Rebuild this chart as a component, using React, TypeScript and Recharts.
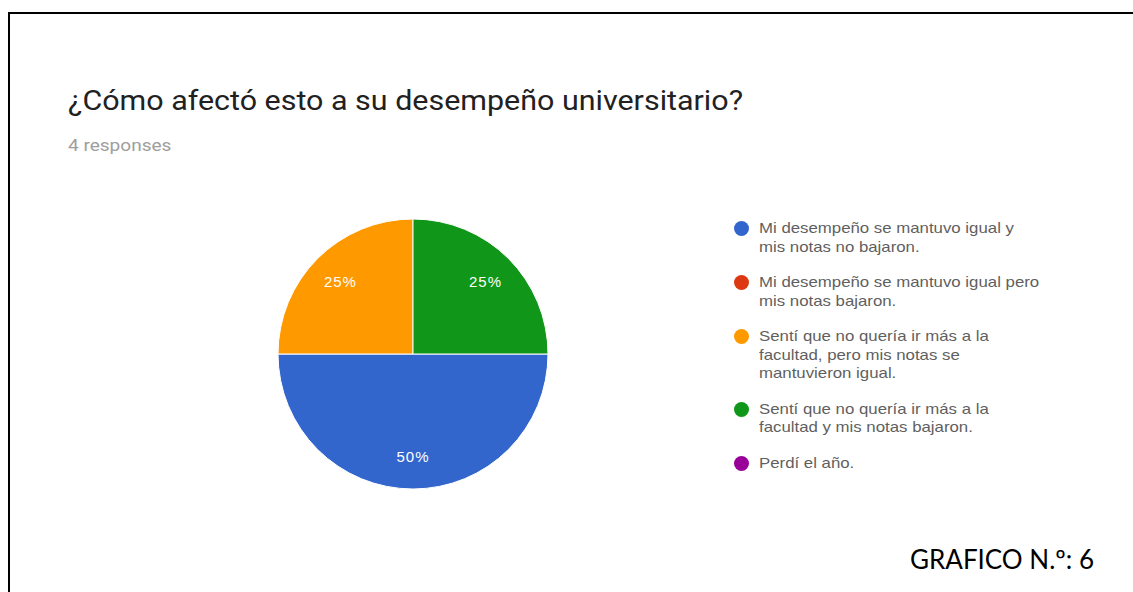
import { Legend, Pie, PieChart, Cell } from "recharts";

const categories = [
  "Mi desempeño se mantuvo igual y\nmis notas no bajaron.",
  "Mi desempeño se mantuvo igual pero\nmis notas bajaron.",
  "Sentí que no quería ir más a la\nfacultad, pero mis notas se\nmantuvieron igual.",
  "Sentí que no quería ir más a la\nfacultad y mis notas bajaron.",
  "Perdí el año.",
];
const counts = [2, 0, 1, 1, 0];
const colors = ["#3366cc", "#dc3912", "#ff9900", "#109618", "#990099"];

const title = "¿Cómo afectó esto a su desempeño universitario?";
const subtitle = "4 responses";
const caption = "GRAFICO N.º: 6";

const rows = categories.map((name, i) => ({ name, value: counts[i], color: colors[i] }));
const total = counts.reduce((a, b) => a + b, 0);

const RAD = Math.PI / 180;

// the source screenshot is a little stretched sideways
const stretch = (k: number) => ({ display: "inline-block", transform: `scaleX(${k})`, transformOrigin: "left center" });

function sliceLabel(p: any) {
  if (!p.value) return null;
  const r = p.outerRadius * 0.76;
  const x = p.cx + r * Math.cos(-p.midAngle * RAD);
  const y = p.cy + r * Math.sin(-p.midAngle * RAD);
  return (
    <text
      x={x}
      y={y}
      fill="#fff"
      fontSize={15}
      letterSpacing={1}
      fontFamily="Liberation Sans, Arial"
      textAnchor="middle"
      dominantBaseline="central"
    >
      {Math.round((p.value / total) * 100)}%
    </text>
  );
}

function LegendBox() {
  return (
    <div style={{ fontFamily: "Liberation Sans, Arial", fontSize: 15, color: "#5f5f5f", lineHeight: "18.5px" }}>
      {rows.map((r) => (
        <div key={r.name} style={{ display: "flex", alignItems: "flex-start", marginBottom: 17 }}>
          <span
            style={{
              width: 15,
              height: 15,
              borderRadius: "50%",
              background: r.color,
              flex: "none",
              marginTop: 2,
              marginRight: 10,
            }}
          />
          <span style={{ whiteSpace: "pre-line", ...stretch(1.12) }}>{r.name}</span>
        </div>
      ))}
    </div>
  );
}

export default function App() {
  return (
    <div style={{ position: "absolute", left: 0, top: 0, width: 1133, height: 592, background: "#fff", overflow: "hidden" }}>
      <div style={{ position: "absolute", left: 8, top: 12, width: 1125, height: 2, background: "#000" }} />
      <div style={{ position: "absolute", left: 8, top: 12, width: 2, height: 580, background: "#000" }} />
      <div style={{ position: "absolute", left: 68, top: 84, fontFamily: "Roboto", fontSize: 28, color: "#212121", whiteSpace: "nowrap" }}>
        <span style={stretch(1.087)}>{title}</span>
      </div>
      <div style={{ position: "absolute", left: 68, top: 135, fontFamily: "Roboto", fontSize: 17, color: "#9e9e9e", whiteSpace: "nowrap" }}>
        <span style={stretch(1.12)}>{subtitle}</span>
      </div>
      <div style={{ position: "absolute", left: 910, top: 543, fontFamily: "Lato", fontSize: 26, color: "#000", whiteSpace: "nowrap" }}>
        {caption}
      </div>
      <div style={{ position: "absolute", left: 0, top: 0 }}>
        <PieChart width={1133} height={592} margin={{ top: 0, right: 0, bottom: 0, left: 0 }}>
          <Pie
            data={rows}
            dataKey="value"
            nameKey="name"
            cx={413}
            cy={354}
            outerRadius={135}
            startAngle={0}
            endAngle={-360}
            stroke="#fff"
            strokeWidth={1}
            label={sliceLabel}
            labelLine={false}
            isAnimationActive={false}
          >
            {rows.map((r) => (
              <Cell key={r.name} fill={r.color} />
            ))}
          </Pie>
          <Legend
            layout="vertical"
            content={() => <LegendBox />}
            wrapperStyle={{ left: 734, top: 219, width: 380, bottom: "auto" }}
          />
        </PieChart>
      </div>
    </div>
  );
}
